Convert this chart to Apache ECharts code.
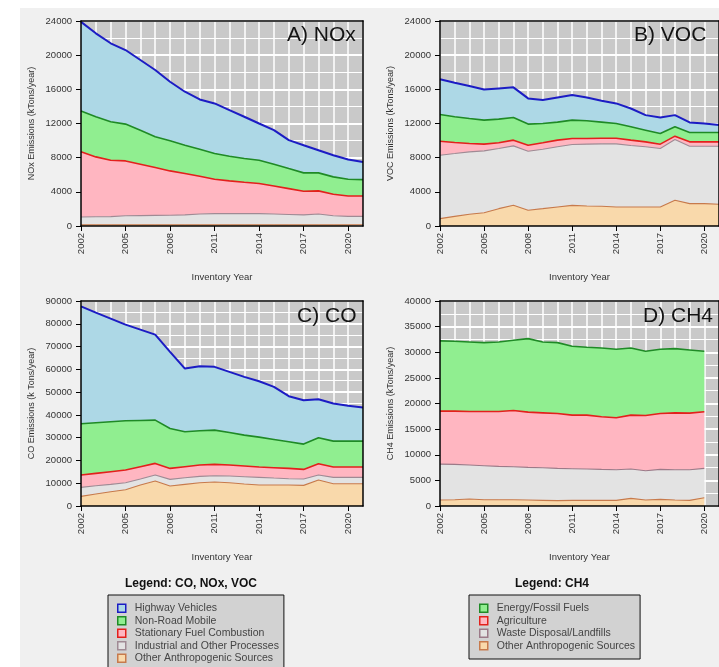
<!DOCTYPE html>
<html><head><meta charset="utf-8">
<script src="https://cdn.jsdelivr.net/npm/echarts@6/dist/echarts.min.js"></script>
<style>
html,body{margin:0;padding:0;background:#fff;}
#bg{position:absolute;left:20px;top:8px;width:699px;height:659px;background:#f0f0f0;}
#chart{position:absolute;left:0;top:0;width:719px;height:667px;}
</style></head><body>
<div id="bg"></div><div id="chart"></div>
<script>
// ---------- DATA ----------
const years = ['2002','2003','2004','2005','2006','2007','2008','2009','2010','2011','2012','2013','2014','2015','2016','2017','2018','2019','2020','2021'];
const xTickYears = ['2002','2005','2008','2011','2014','2017','2020'];

// NOx (kTons/year), per source (stacked)
const noxHighway    = [10450,9770,9190,8670,8210,7820,6920,6260,5830,5870,5400,4890,4300,3990,3330,3240,2655,2540,2310,2070];
const noxNonRoad    = [4770,4700,4500,4310,3990,3600,3520,3320,3160,3010,2890,2780,2730,2540,2340,2150,2110,2040,1950,1910];
const noxStationary = [7620,7010,6600,6420,6010,5600,5200,4840,4430,4020,3830,3670,3520,3290,3030,2770,2710,2510,2390,2390];
const noxIndustrial = [910,930,950,1050,1070,1090,1100,1150,1250,1300,1300,1300,1300,1250,1200,1150,1250,1050,980,980];
const noxOther      = [150,150,150,150,150,150,150,150,150,150,150,150,150,150,150,150,150,150,150,150];

// VOC
const vocHighway    = [4110,3980,3790,3590,3600,3520,3010,2740,2890,2930,2730,2500,2350,2150,1760,1880,1370,1170,1050,860];
const vocNonRoad    = [3130,3010,2930,2820,2770,2660,2470,2260,2110,2160,2080,1880,1720,1560,1370,1250,1090,1100,1100,1100];
const vocStationary = [1640,1300,980,780,670,670,700,750,780,700,660,660,660,630,580,510,390,510,510,510];
const vocIndustrial = [7430,7350,7310,7240,7040,6960,6920,6960,7040,7120,7230,7310,7390,7190,7040,6840,7120,6720,6720,6800];
const vocOther      = [860,1130,1370,1560,2030,2420,1840,2030,2230,2420,2350,2310,2230,2230,2230,2230,3010,2620,2620,2540];

// CO
const coHighway    = [51580,48360,45290,42220,39890,37550,33610,27760,28350,27770,26590,25570,24540,23090,20020,19280,16950,16510,15490,14760];
const coNonRoad    = [22500,22210,21920,21630,20310,19000,17530,15340,15050,15050,14320,13590,13160,12420,11690,11110,11390,11400,11400,11400];
const coStationary = [5410,5410,5550,5550,5400,5110,4820,4820,4970,4960,4820,4670,4520,4530,4530,4230,4970,4520,4520,4520];
const coIndustrial = [3940,3650,3220,3070,2630,2630,2920,2920,2770,2780,2920,3220,3360,3060,2770,2780,2190,2780,2780,2780];
const coOther      = [4240,5260,6280,7160,9210,10960,8770,9500,10230,10520,10230,9640,9210,9210,9210,9060,11400,9790,9790,9790];

// CH4 (2002-2020)
const ch4Energy      = [13700,13630,13560,13430,13560,13700,14350,13830,13830,13440,13240,13440,13370,13110,12530,12530,12530,12330,11810];
const ch4Agriculture = [10330,10390,10460,10590,10720,10980,10780,10710,10710,10460,10520,10260,10130,10520,10780,10910,11100,11040,11040];
const ch4Waste       = [7010,6890,6630,6630,6500,6430,6360,6370,6300,6170,6110,6040,5980,5720,5710,5840,5910,5980,5720];
const ch4Other       = [1170,1230,1360,1230,1230,1230,1170,1100,1040,1100,1100,1100,1100,1490,1170,1300,1170,1100,1620];

// axis ranges [min, max, interval]
const noxAxis = [0, 24000, 4000];
const vocAxis = [0, 24000, 4000];
const coAxis  = [0, 90000, 10000];
const ch4Axis = [0, 40000, 5000];

// ---------- STYLE ----------
const FONT = 'Liberation Sans, Arial, sans-serif';
const sty = {
  'Highway Vehicles':              {line:'#1c1cc4', area:'#add8e6', w:2},
  'Non-Road Mobile':               {line:'#1f8a26', area:'#90ee90', w:1.6},
  'Stationary Fuel Combustion':    {line:'#e3201c', area:'#ffb6c1', w:1.6},
  'Industrial and Other Processes':{line:'#a08a94', area:'#e3e3e3', w:1.1},
  'Other Anthropogenic Sources':   {line:'#c77a4c', area:'#f9d9ab', w:1.1},
  'Energy/Fossil Fuels':           {line:'#1f8a26', area:'#90ee90', w:1.6},
  'Agriculture':                   {line:'#e3201c', area:'#ffb6c1', w:1.6},
  'Waste Disposal/Landfills':      {line:'#9c7a88', area:'#e3e3e3', w:1.1}
};

const panels = [
  {label:'A) NOx', yname:'NOx Emissions (kTons/year)', axis:noxAxis, left:81, top:21, lx:287, ly:37,
   series:[['Other Anthropogenic Sources',noxOther],['Industrial and Other Processes',noxIndustrial],['Stationary Fuel Combustion',noxStationary],['Non-Road Mobile',noxNonRoad],['Highway Vehicles',noxHighway]]},
  {label:'B) VOC', yname:'VOC Emissions (kTons/year)', axis:vocAxis, left:440, top:21, lx:634, ly:37,
   series:[['Other Anthropogenic Sources',vocOther],['Industrial and Other Processes',vocIndustrial],['Stationary Fuel Combustion',vocStationary],['Non-Road Mobile',vocNonRoad],['Highway Vehicles',vocHighway]]},
  {label:'C) CO', yname:'CO Emissions (k Tons/year)', axis:coAxis, left:81, top:301, lx:297, ly:318,
   series:[['Other Anthropogenic Sources',coOther],['Industrial and Other Processes',coIndustrial],['Stationary Fuel Combustion',coStationary],['Non-Road Mobile',coNonRoad],['Highway Vehicles',coHighway]]},
  {label:'D) CH4', yname:'CH4 Emissions (kTons/year)', axis:ch4Axis, left:440, top:301, lx:643, ly:318,
   series:[['Other Anthropogenic Sources',ch4Other],['Waste Disposal/Landfills',ch4Waste],['Agriculture',ch4Agriculture],['Energy/Fossil Fuels',ch4Energy]]}
];

const showTick = (idx, val) => xTickYears.indexOf(String(val)) >= 0;

const grid = [], xAxis = [], yAxis = [], series = [], graphic = [];
panels.forEach((p, i) => {
  grid.push({left:p.left, top:p.top, width:282, height:205, show:true, backgroundColor:'#c9c9c9', borderWidth:0});
  const [mn, mx, iv] = p.axis;
  xAxis.push({type:'category', gridIndex:i, data:years, boundaryGap:false, position:'bottom', z:10,
    axisLine:{show:true, onZero:false, lineStyle:{color:'#000', width:1.5}},
    axisTick:{show:true, interval:showTick, length:5, lineStyle:{color:'#000', width:1}},
    axisLabel:{interval:showTick, rotate:90, fontSize:9.5, color:'#333', margin:7, fontFamily:FONT},
    splitLine:{show:false},
    name:'Inventory Year', nameLocation:'middle', nameGap:46, nameTextStyle:{fontSize:9.5, color:'#333', fontFamily:FONT}});
  xAxis.push({type:'category', gridIndex:i, data:years, boundaryGap:false, position:'top', z:10,
    axisLine:{show:true, onZero:false, lineStyle:{color:'#000', width:1.5}},
    axisTick:{show:false}, axisLabel:{show:false}, splitLine:{show:false}});
  xAxis.push({type:'category', gridIndex:i, data:years, boundaryGap:false, position:'bottom', z:0,
    axisLine:{show:false, onZero:false}, axisTick:{show:false}, axisLabel:{show:false},
    splitLine:{show:true, interval:0, lineStyle:{color:'#ffffff', width:1.5}}});

  yAxis.push({type:'value', gridIndex:i, min:mn, max:mx, interval:iv, position:'left', z:10,
    axisLine:{show:true, onZero:false, lineStyle:{color:'#000', width:1.5}},
    axisTick:{show:true, length:5, lineStyle:{color:'#000', width:1}},
    axisLabel:{fontSize:9.5, color:'#333', margin:9, fontFamily:FONT, formatter:v => String(v)},
    splitLine:{show:false},
    name:p.yname, nameLocation:'middle', nameGap:45, nameTextStyle:{fontSize:9, color:'#333', fontFamily:FONT}});
  yAxis.push({type:'value', gridIndex:i, min:mn, max:mx, interval:iv, position:'right', z:10,
    axisLine:{show:true, onZero:false, lineStyle:{color:'#000', width:1.5}},
    axisTick:{show:false}, axisLabel:{show:false}, splitLine:{show:false}});
  yAxis.push({type:'value', gridIndex:i, min:mn, max:mx, interval:iv, position:'left', z:0,
    axisLine:{show:false, onZero:false}, axisTick:{show:false}, axisLabel:{show:false},
    splitLine:{show:true, lineStyle:{color:'#ffffff', width:2}},
    minorTick:{show:false, splitNumber:2},
    minorSplitLine:{show:true, lineStyle:{color:'#ffffff', width:1.2}}});

  const n = p.series.length;
  p.series.forEach(([name, data], k) => {
    const s = sty[name];
    series.push({type:'line', name, data, xAxisIndex:3*i, yAxisIndex:3*i, stack:'s'+i,
      symbol:'none', showSymbol:false, z:3 + (n - k), silent:true,
      lineStyle:{color:s.line, width:s.w}, itemStyle:{color:s.line},
      areaStyle:{color:s.area, opacity:1}});
  });

  graphic.push({type:'text', left:p.lx, top:p.ly - 12, z:100,
    style:{text:p.label, font:'21px ' + FONT, fill:'#141414'}});
});

graphic.push({type:'text', left:125, top:578, z:100,
  style:{text:'Legend: CO, NOx, VOC', font:'bold 12px ' + FONT, fill:'#111'}});
graphic.push({type:'text', left:515, top:578, z:100,
  style:{text:'Legend: CH4', font:'bold 12px ' + FONT, fill:'#111'}});

const legendNames1 = ['Highway Vehicles','Non-Road Mobile','Stationary Fuel Combustion','Industrial and Other Processes','Other Anthropogenic Sources'];
const legendNames2 = ['Energy/Fossil Fuels','Agriculture','Waste Disposal/Landfills','Other Anthropogenic Sources'];
const legItem = name => ({name, icon:'rect', itemStyle:{color:sty[name].area, borderColor:sty[name].line, borderWidth:1.5}});
const legBase = {orient:'vertical', itemWidth:8, itemHeight:8, itemGap:0, selectedMode:false,
  backgroundColor:'#d2d2d2', borderColor:'#111', borderWidth:1, height:150,
  textStyle:{fontSize:10.5, lineHeight:12.5, color:'#444', fontFamily:FONT, padding:[0,0,0,4]}};

const option = {
  animation:false,
  backgroundColor:'transparent',
  grid, xAxis, yAxis, series, graphic,
  legend:[
    Object.assign({}, legBase, {left:108, top:595, padding:[7,5,8,9], data:legendNames1.map(legItem)}),
    Object.assign({}, legBase, {left:469, top:595, padding:[7,5,7,10], data:legendNames2.map(legItem)})
  ]
};
const chart = echarts.init(document.getElementById('chart'), null, {renderer:'canvas'});
chart.setOption(option);
</script>
</body></html>
